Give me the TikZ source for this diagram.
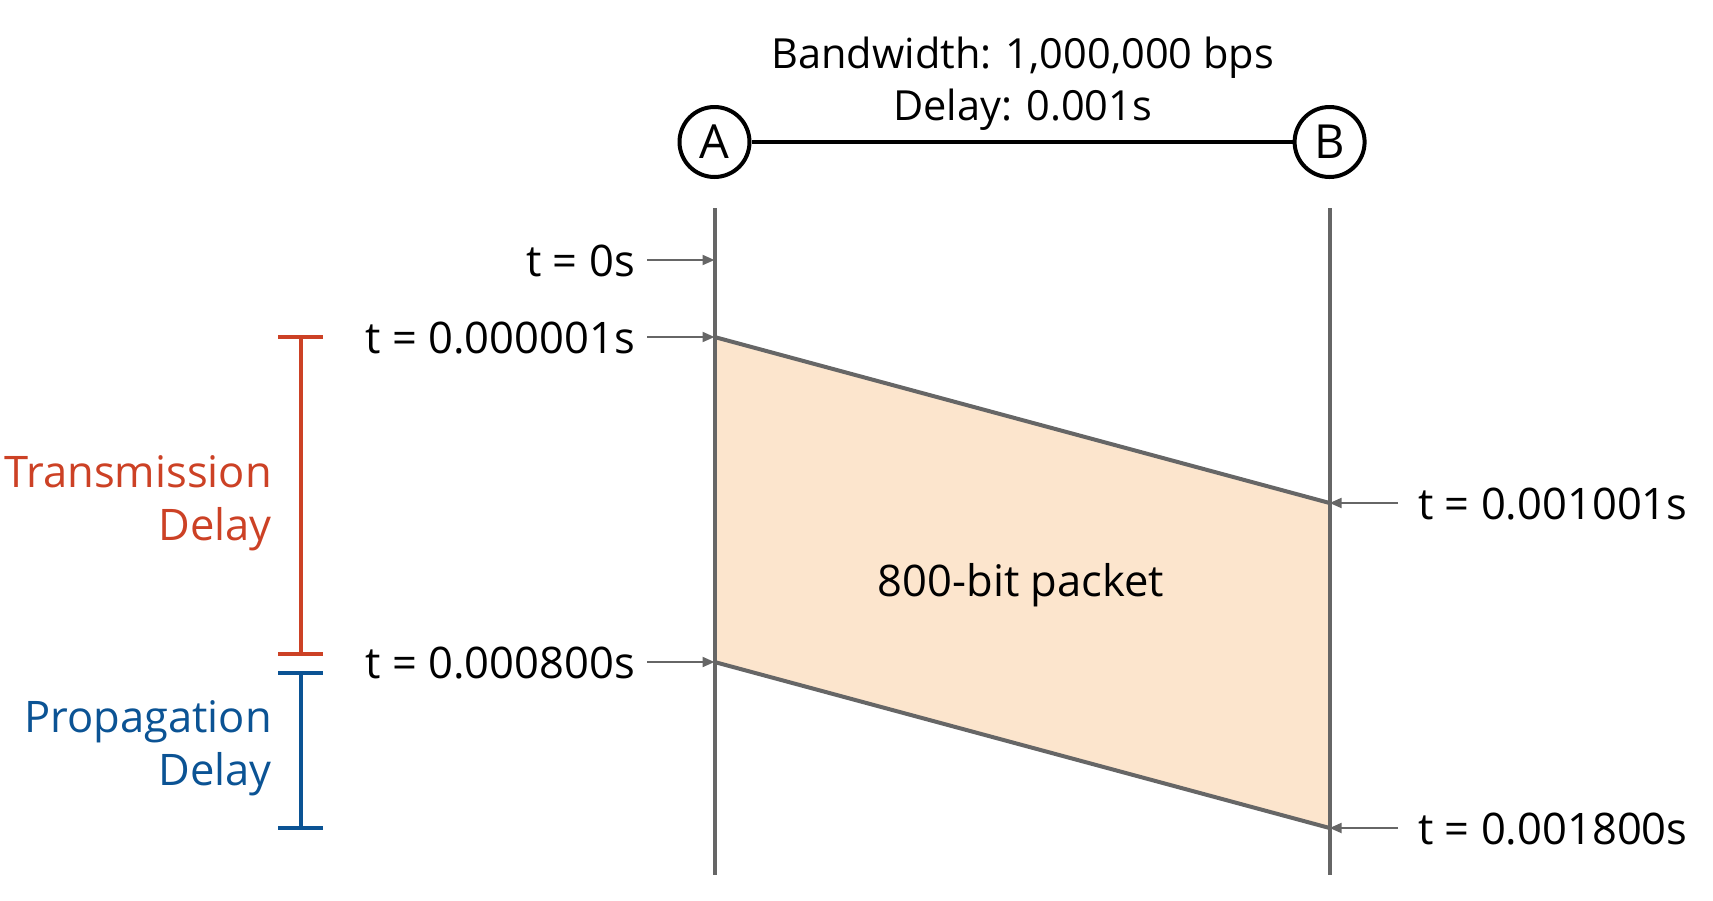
\documentclass[tikz,border=0pt]{standalone}
\usepackage{fontspec}
\setmainfont{Open Sans}
\usetikzlibrary{arrows.meta}
\definecolor{lifegray}{HTML}{666666}
\definecolor{packetfill}{HTML}{FCE5CD}
\definecolor{txred}{HTML}{CC4125}
\definecolor{prblue}{HTML}{0B5394}
\tikzset{
  tlabel/.style={font=\fontsize{43.5}{50}\selectfont, inner sep=0pt},
  toplabel/.style={font=\fontsize{41.5}{46}\selectfont, inner sep=0pt},
  sidelabel/.style={font=\fontsize{43.5}{48}\selectfont, inner sep=0pt},
  hostnode/.style={circle, draw=black, line width=4pt, minimum size=70pt, inner sep=0pt, fill=white, font=\fontsize{47}{50}\selectfont},
  lifeline/.style={draw=lifegray, line width=4pt},
  edgeline/.style={draw=lifegray, line width=4pt, line join=round},
  timearrow/.style={draw=lifegray, line width=2pt, -{Triangle[length=12pt,width=10pt]}},
  bracketline/.style={line width=4pt}
}
\begin{document}
\begin{tikzpicture}[x=1pt,y=-1pt]
\useasboundingbox (0,0) rectangle (1713,900);
% coordinates
\coordinate (Atop) at (714.5,208);
\coordinate (Abot) at (714.5,875);
\coordinate (Btop) at (1329.6,208);
\coordinate (Bbot) at (1329.6,875);
\coordinate (a0) at (714.5,260);
\coordinate (a1) at (714.5,337);
\coordinate (a2) at (714.5,662);
\coordinate (b1) at (1329.6,503);
\coordinate (b2) at (1329.6,828);
% packet
\fill[packetfill] (a1) -- (b1) -- (b2) -- (a2) -- cycle;
\draw[edgeline] (a1) -- (b1);
\draw[edgeline] (a2) -- (b2);
\draw[lifeline] (Atop) -- (Abot);
\draw[lifeline] (Btop) -- (Bbot);
% hosts
\node[hostnode] (A) at (714.5,142) {A};
\node[hostnode] (B) at (1329.6,142) {B};
\draw[line width=4pt] (A) -- (B);
\node[toplabel, anchor=base] (bw) at (1022.6,68.5) {Bandwidth: 1,000,000 bps};
\node[toplabel, anchor=base] (dl) at (1022.6,120) {Delay: 0.001s};
% packet label
\node[sidelabel, anchor=base] (pk) at (1021,596) {800-bit packet};
% time labels left
\node[tlabel, anchor=base east] (t0) at (635,276) {t = 0s};
\node[tlabel, anchor=base east] (t1) at (635,353) {t = 0.000001s};
\node[tlabel, anchor=base east] (t2) at (635,678) {t = 0.000800s};
\coordinate (s0) at (647,260);
\coordinate (s1) at (647,337);
\coordinate (s2) at (647,662);
\draw[timearrow] (s0) -- (a0);
\draw[timearrow] (s1) -- (a1);
\draw[timearrow] (s2) -- (a2);
% time labels right
\node[tlabel, anchor=base west] (t3) at (1418,519) {t = 0.001001s};
\node[tlabel, anchor=base west] (t4) at (1418,844) {t = 0.001800s};
\coordinate (s3) at (1398,503);
\coordinate (s4) at (1398,828);
\draw[timearrow] (s3) -- (b1);
\draw[timearrow] (s4) -- (b2);
% brackets
\draw[bracketline, txred] (300.5,337) -- (300.5,654);
\draw[bracketline, txred] (278,337) -- (323,337);
\draw[bracketline, txred] (278,654) -- (323,654);
\draw[bracketline, prblue] (300.5,672.5) -- (300.5,827.5);
\draw[bracketline, prblue] (278,672.5) -- (323,672.5);
\draw[bracketline, prblue] (278,827.5) -- (323,827.5);
\node[sidelabel, anchor=base east, text=txred] (tr1) at (272,487) {Transmission};
\node[sidelabel, anchor=base east, text=txred] (tr2) at (272,540) {Delay};
\node[sidelabel, anchor=base east, text=prblue] (pr1) at (272,732) {Propagation};
\node[sidelabel, anchor=base east, text=prblue] (pr2) at (272,785) {Delay};
\end{tikzpicture}
\end{document}
